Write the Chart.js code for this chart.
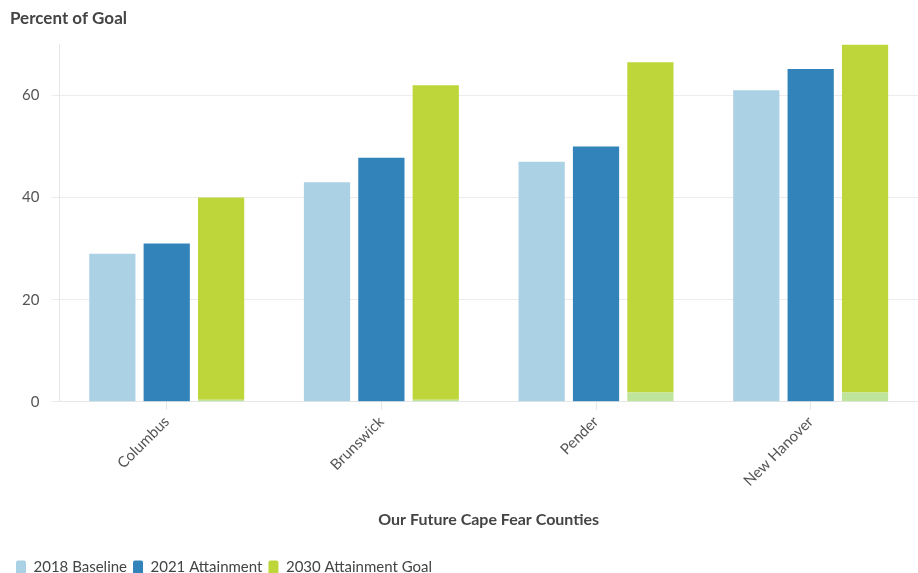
<!DOCTYPE html>
<html>
<head>
<meta charset="utf-8">
<script src="https://cdn.jsdelivr.net/npm/chart.js@4.4.0/dist/chart.umd.min.js"></script>
<style>
  html, body { margin: 0; padding: 0; background: #fff; overflow: hidden; }
  #wrap { width: 918px; height: 585px; position: relative; }
</style>
</head>
<body>
<div id="wrap"><canvas id="chart"></canvas></div>
<script>
const counties = ['Columbus', 'Brunswick', 'Pender', 'New Hanover'];
const baseline2018 = [29, 43, 47, 61];
const attainment2021 = [31, 47.8, 50, 65.2];
const goal2030 = [40, 62, 66.5, 70];
// thin lighter green strip seen at the foot of each goal bar
const goalBase = [0.4, 0.4, 1.8, 1.8];
const yTicks = [0, 20, 40, 60];

const fontFamily = 'Lato, "Open Sans", sans-serif';

const ctx = document.getElementById('chart').getContext('2d');
new Chart(ctx, {
  type: 'bar',
  data: {
    labels: counties,
    datasets: [
      {
        label: '2018 Baseline',
        data: baseline2018,
        backgroundColor: '#abd1e5',
        stack: 'a',
      },
      {
        label: '2021 Attainment',
        data: attainment2021,
        backgroundColor: '#3383bb',
        stack: 'b',
      },
      {
        label: 'base',
        data: goalBase,
        backgroundColor: '#bfe49c',
        stack: 'c',
      },
      {
        label: '2030 Attainment Goal',
        data: goal2030.map((v, i) => v - goalBase[i]),
        backgroundColor: '#bfd63a',
        stack: 'c',
      },
    ],
  },
  options: {
    responsive: true,
    maintainAspectRatio: false,
    animation: false,
    categoryPercentage: 0.76,
    barPercentage: 0.85,
    layout: { padding: { left: 10, right: 0, top: 4, bottom: 0 } },
    scales: {
      x: {
        stacked: true,
        grid: { display: true, offset: false, drawOnChartArea: false, color: '#e6e6e6', tickLength: 8 },
        border: { color: '#e6e6e6' },
        ticks: {
          color: '#555',
          font: { family: fontFamily, size: 15 },
          maxRotation: 45,
          minRotation: 45,
        },
        title: {
          display: true,
          text: 'Our Future Cape Fear Counties',
          color: '#444',
          font: { family: fontFamily, size: 16, weight: 'bold' },
          padding: { top: 17, bottom: 25 },
        },
      },
      y: {
        stacked: true,
        min: 0,
        max: 70,
        afterBuildTicks: (axis) => { axis.ticks = yTicks.map(v => ({ value: v })); },
        grid: { color: '#ececec', tickLength: 8 },
        border: { color: '#e6e6e6' },
        ticks: {
          color: '#555',
          font: { family: fontFamily, size: 15 },
          padding: 12,
        },
      },
    },
    plugins: {
      title: {
        display: true,
        text: 'Percent of Goal',
        align: 'start',
        color: '#444',
        font: { family: fontFamily, size: 17, weight: 'bold' },
        padding: { top: 4, bottom: 16 },
      },
      legend: {
        position: 'bottom',
        align: 'start',
        labels: {
          filter: (item) => item.text !== 'base',
          color: '#444',
          font: { family: fontFamily, size: 15 },
          boxWidth: 10,
          boxHeight: 14,
          padding: 6,
          useBorderRadius: true,
          borderRadius: 2,
        },
      },
      tooltip: { enabled: false },
    },
  },
});
</script>
</body>
</html>
